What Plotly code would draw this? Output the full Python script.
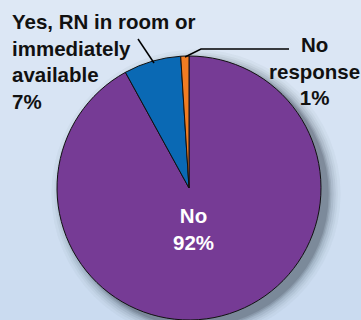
import plotly.graph_objects as go

# ---- data ----
labels = ["No", "Yes, RN in room or immediately available", "No response"]
label_text = ["No", "Yes, RN in room or<br>immediately<br>available", "No<br>response"]
values = [92, 7, 1]
colors = ["#763B95", "#0A69B4", "#F07C22"]

W, H = 361, 320
FONT = "Liberation Sans, Arial, Helvetica, sans-serif"

def px_x(p):
    return p / W

def px_y(p):
    return 1 - p / H

fig = go.Figure()

fig.add_trace(go.Pie(
    labels=labels,
    values=values,
    sort=False,
    direction="clockwise",
    rotation=0,
    marker=dict(colors=colors, line=dict(color="#111111", width=1)),
    textinfo="none",
    hoverinfo="label+percent",
    showlegend=False,
    domain=dict(x=[px_x(57), px_x(321)], y=[px_y(320), px_y(56)]),
))

shapes = []
# background vertical gradient in bands
top_c = (0xDE, 0xE8, 0xF5)
bot_c = (0xCA, 0xDB, 0xF0)
n = 32
for i in range(n):
    t = i / (n - 1)
    c = tuple(round(top_c[k] + (bot_c[k] - top_c[k]) * t) for k in range(3))
    shapes.append(dict(type="rect", xref="paper", yref="paper", layer="below",
                       x0=0, x1=1, y0=px_y((i + 1) * H / n), y1=px_y(i * H / n),
                       line=dict(width=0), fillcolor="rgb(%d,%d,%d)" % c))
# soft shadow bottom-right
cx, cy, r = 189, 188, 132
for d, op in [(18, 0.04), (14, 0.05), (11, 0.07), (8, 0.09), (5, 0.12), (3, 0.16), (1, 0.2)]:
    ox, oy = 7, 6
    rr = r + d * 0.7
    shapes.append(dict(type="circle", xref="paper", yref="paper", layer="below",
                       x0=px_x(cx + ox - rr), x1=px_x(cx + ox + rr),
                       y0=px_y(cy + oy + rr), y1=px_y(cy + oy - rr),
                       line=dict(width=0), fillcolor="rgba(60,70,85,%.2f)" % op))
# leader lines
shapes.append(dict(type="line", xref="paper", yref="paper",
                   x0=px_x(138), y0=px_y(39), x1=px_x(154), y1=px_y(63),
                   line=dict(color="black", width=1.5)))
shapes.append(dict(type="path", xref="paper", yref="paper",
                   path="M %f,%f L %f,%f L %f,%f" % (px_x(185), px_y(57), px_x(201), px_y(49), px_x(289), px_y(49)),
                   line=dict(color="black", width=1.5)))

annotations = [
    dict(text="%s<br>%d%%" % (label_text[1], values[1]), x=px_x(11), y=px_y(9),
         xanchor="left", yanchor="top", align="left",
         font=dict(family=FONT, size=20.5, color="#111111", weight="bold")),
    dict(text="%s<br>%d%%" % (label_text[2], values[2]), x=px_x(314), y=px_y(32),
         xanchor="center", yanchor="top", align="center",
         font=dict(family=FONT, size=20.5, color="#111111", weight="bold")),
    dict(text="%s<br>%d%%" % (label_text[0], values[0]), x=px_x(193), y=px_y(203),
         xanchor="center", yanchor="top", align="center",
         font=dict(family=FONT, size=20.5, color="white", weight="bold")),
]
for a in annotations:
    a.update(xref="paper", yref="paper", showarrow=False, borderpad=0)

fig.update_layout(
    width=W, height=H,
    margin=dict(l=0, r=0, t=0, b=0),
    paper_bgcolor="#D5E2F3",
    plot_bgcolor="#D5E2F3",
    shapes=shapes,
    annotations=annotations,
)

fig.write_html("out.html", config={"displayModeBar": False},
               post_script="document.body.style.margin='0';document.body.style.overflow='hidden';")
